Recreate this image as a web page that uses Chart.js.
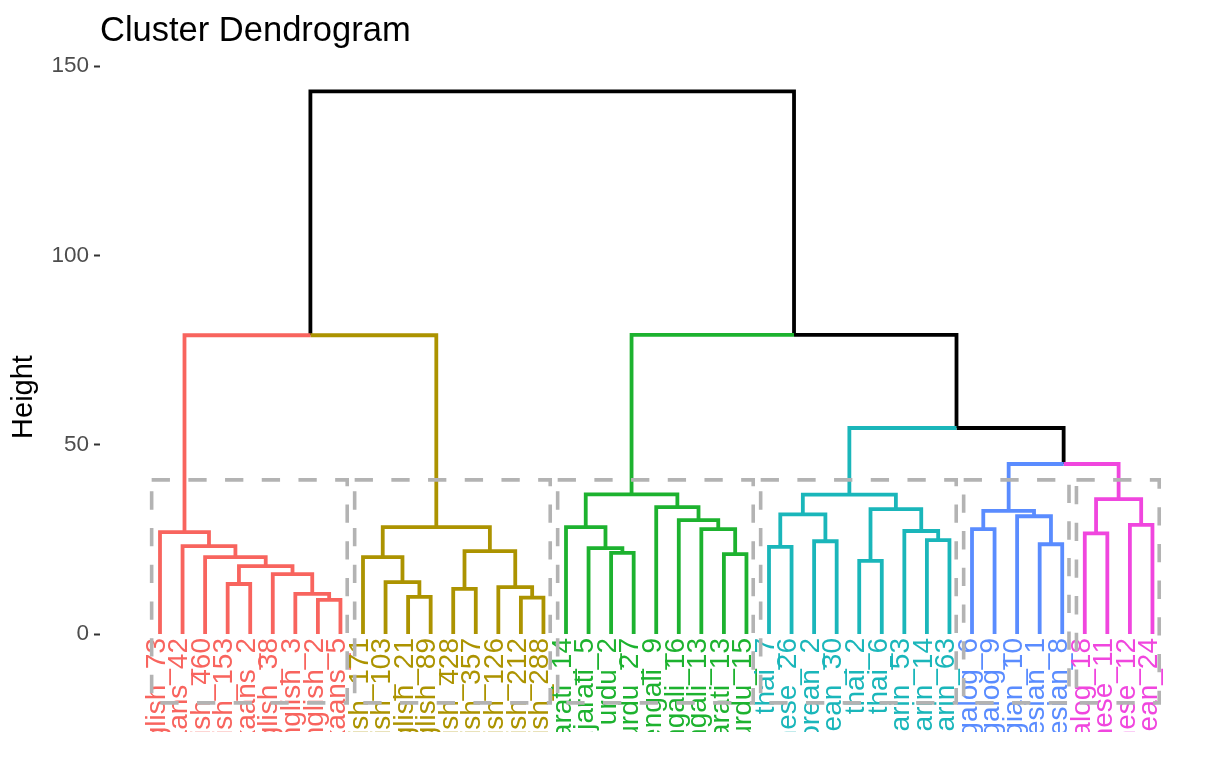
<!DOCTYPE html>
<html>
<head>
<meta charset="utf-8">
<script src="https://cdn.jsdelivr.net/npm/chart.js@4.4.1/dist/chart.umd.min.js"></script>
<style>
html,body{margin:0;padding:0;background:#ffffff;}
#wrap{width:1226px;height:757px;}
</style>
</head>
<body>
<div id="wrap"><canvas id="c" width="1226" height="757"></canvas></div>
<script>
// ---------------- data ----------------
const leafLabels = [
  'english_73','afrikaans_42','english_460','english_153','afrikaans_2','english_38','english_3','english_2','afrikaans_5',
  'english_171','english_103','english_21','english_89','english_428','english_357','english_126','english_212','english_288',
  'gujarati_14','gujarati_5','urdu_2','urdu_27','bengali_9','bengali_16','bengali_13','gujarati_13','urdu_15',
  'thai_7','japanese_26','korean_2','korean_30','thai_2','thai_6','mandarin_53','mandarin_14','mandarin_63',
  'tagalog_6','tagalog_9','norwegian_10','indonesian_1','indonesian_8',
  'tagalog_18','japanese_11','japanese_12','korean_24'
];
const leafCluster = [
  0,0,0,0,0,0,0,0,0,
  1,1,1,1,1,1,1,1,1,
  2,2,2,2,2,2,2,2,2,
  3,3,3,3,3,3,3,3,3,
  4,4,4,4,4,
  5,5,5,5
];
const clusterColors = ['#F8645E','#AC9300','#1DB22F','#1AB6BA','#5A8CFF','#F046DE'];
const mixedColor = '#000000';

// hclust-style merges: negative = leaf (1-based, in display order), positive = earlier merge row (1-based)
const mergeLeft  = [ -8, -7, -4, -6,  3, -3, -2, -1,
                    -12,-17,-14,-16,-11,-10, 11, 14,
                      8,
                    -26,-21,-20,-25,-19,-24,-23, 22,
                    -32,-28,-30,-35,-34, 27, 26, 31,
                    -40,-37,-39, 35,
                    -42,-44, 38,
                     37, 33, 25, 17 ];
const mergeRight = [ -9,  1, -5,  2,  4,  5,  6,  7,
                    -13,-18,-15, 10,  9, 13, 12, 15,
                     16,
                    -27,-22, 19, 18, 20, 21, 23, 24,
                    -33,-29,-31,-36, 29, 28, 30, 32,
                    -41,-38, 34, 36,
                    -43,-45, 39,
                     40, 41, 42, 43 ];
const mergeHeight = [ 9.0, 10.6, 13.2, 15.8, 17.9, 20.3, 23.2, 26.9,
                      9.8,  9.6, 11.9, 12.4, 13.7, 20.3, 21.9, 28.2,
                     78.9,
                     21.1, 21.4, 22.7, 27.7, 28.2, 30.1, 33.5, 36.9,
                     19.3, 23.0, 24.5, 24.8, 27.2, 31.6, 33.0, 36.8,
                     23.7, 27.7, 31.1, 32.5,
                     26.6, 28.8, 35.6,
                     44.9, 54.4, 79.0, 143.3 ];

const yTickValues = [0, 50, 100, 150];
const cutHeight = 40.7;       // top of the cluster rectangles
const rectBottom = -18.2;     // bottom of the cluster rectangles

// ------------- axis ranges -------------
const yMin = -25.88, yMax = 151.06;
const xMin = -1.66, xMax = 47.64;

// ------------- build segments from the merge table -------------
const nodeX = [], nodeH = [], nodeC = [];
function childInfo(ref) {
  if (ref < 0) { const i = -ref - 1; return { x: i + 1, h: 0, c: leafCluster[i] }; }
  const j = ref - 1;
  return { x: nodeX[j], h: nodeH[j], c: nodeC[j] };
}
const segByColor = {};
mergeHeight.forEach((h, k) => {
  const a = childInfo(mergeLeft[k]);
  const b = childInfo(mergeRight[k]);
  const x = (a.x + b.x) / 2;
  nodeX.push(x); nodeH.push(h); nodeC.push(a.c === b.c ? a.c : -1);
  [a, b].forEach(ch => {
    const key = ch.c;
    if (!segByColor[key]) segByColor[key] = [];
    segByColor[key].push({ x: x, y: h }, { x: ch.x, y: h }, { x: ch.x, y: ch.h }, { x: ch.x, y: null });
  });
});

const datasets = [];
// cluster rectangles (drawn on top)
const boxPts = [];
clusterColors.forEach((col, c) => {
  const idx = leafCluster.map((v, i) => v === c ? i + 1 : null).filter(v => v !== null);
  const l = Math.min(...idx) - 0.37, r = Math.max(...idx) + 0.3;
  boxPts.push({x: l, y: cutHeight}, {x: r, y: cutHeight}, {x: r, y: rectBottom}, {x: l, y: rectBottom}, {x: l, y: cutHeight}, {x: l, y: null});
});
datasets.push({
  data: boxPts, showLine: true, borderColor: '#B3B3B3', borderWidth: 3.6,
  borderDash: [18.3, 18.4], pointRadius: 0, spanGaps: false, order: 0, borderJoinStyle: 'miter'
});
Object.keys(segByColor).forEach(key => {
  const k = Number(key);
  datasets.push({
    data: segByColor[key], showLine: true,
    borderColor: k < 0 ? mixedColor : clusterColors[k],
    borderWidth: 3.8, pointRadius: 0, spanGaps: false, order: 1,
    borderJoinStyle: 'miter', borderCapStyle: 'butt'
  });
});

const clipBottom = {
  id: 'clipBottom',
  beforeDraw(chart) {
    const {ctx, chartArea} = chart;
    ctx.save(); ctx.beginPath(); ctx.rect(0, 0, chart.width, chartArea.bottom); ctx.clip();
  },
  afterDraw(chart) { chart.ctx.restore(); }
};

Chart.defaults.font.family = "'Liberation Sans', Arial, Helvetica, sans-serif";

new Chart(document.getElementById('c'), {
  type: 'scatter',
  data: { datasets },
  plugins: [clipBottom],
  options: {
    responsive: false,
    animation: false,
    layout: { padding: { left: 0, right: 14, top: 0, bottom: 25 } },
    plugins: {
      legend: { display: false },
      tooltip: { enabled: false },
      title: {
        display: true, text: 'Cluster Dendrogram', align: 'start', fullSize: false,
        color: '#000000', font: { size: 34.5, weight: 'normal' },
        padding: { top: 11, bottom: 9.6 }
      }
    },
    scales: {
      x: {
        type: 'linear', min: xMin, max: xMax, position: { y: 0 },
        grid: { display: false, drawTicks: false }, border: { display: false },
        afterBuildTicks: s => { s.ticks = leafLabels.map((_, i) => ({ value: i + 1 })); },
        afterFit: s => { s.paddingLeft = 0; s.paddingRight = 0; s.paddingTop = 0; s.paddingBottom = 0; },
        ticks: {
          autoSkip: false, minRotation: 90, maxRotation: 90, padding: 4, labelOffset: -3,
          font: { size: 28 },
          color: ctx => clusterColors[leafCluster[Math.round(ctx.tick.value) - 1]],
          callback: (v) => leafLabels[Math.round(v) - 1]
        }
      },
      y: {
        type: 'linear', min: yMin, max: yMax, position: 'left',
        afterBuildTicks: s => { s.ticks = yTickValues.map(v => ({ value: v })); },
        afterFit: s => { s.width = 100; s.paddingTop = 0; s.paddingBottom = 0; s.paddingLeft = 0; s.paddingRight = 0; },
        grid: { drawOnChartArea: false, drawTicks: true, tickLength: 6, tickColor: '#333333', tickWidth: 2 },
        border: { display: false },
        ticks: { padding: 5, color: '#4D4D4D', font: { size: 22.5 } },
        title: { display: true, text: 'Height', color: '#000000', font: { size: 29 }, padding: { top: 7, bottom: 0 } }
      }
    }
  }
});
</script>
</body>
</html>
